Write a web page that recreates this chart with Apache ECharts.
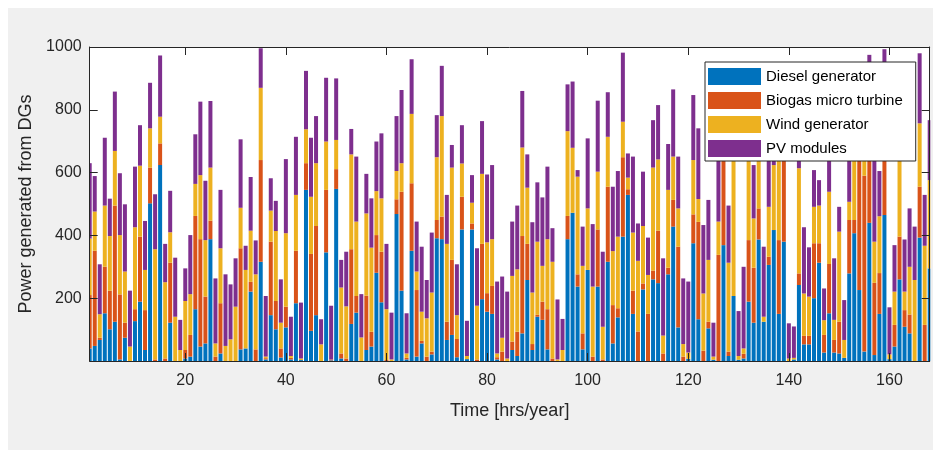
<!DOCTYPE html>
<html><head><meta charset="utf-8">
<script src="https://cdn.jsdelivr.net/npm/echarts@6/dist/echarts.min.js"></script>
<style>html,body{margin:0;padding:0;background:#fff}#c{width:933px;height:450px}</style>
</head><body><div id="c"></div>
<script>
// Hours 1..168 (x categories)
const hours = Array.from({length:168},(_,i)=>i+1);
const xTicks = [20,40,60,80,100,120,140,160];
const yTicks = [0,200,400,600,800,1000];
const seriesNames = ['Diesel generator','Biogas micro turbine','Wind generator','PV modules'];

const diesel = [40,48,67,152,101,125,5,74,0,127,189,35,502,0,624,0,122,0,0,8,14,165,46,56,388,0,24,0,0,0,
37,40,221,0,316,5,146,101,11,107,5,184,3,545,96,146,0,346,2,548,8,0,118,154,0,35,46,281,187,0,
0,468,224,5,351,14,56,0,21,391,388,67,83,12,419,6,419,0,197,157,150,5,0,0,35,16,88,258,35,141,
131,37,0,0,0,388,472,237,37,290,0,237,0,316,56,139,396,529,150,0,228,0,260,248,0,276,428,107,0,7,
375,133,0,104,4,0,369,16,207,4,8,189,122,387,125,306,417,150,380,0,5,242,53,53,200,313,27,152,27,24,
10,279,407,226,30,440,19,150,465,6,46,260,109,88,0,393,0,295];

const biogas = [170,303,7,148,123,370,207,48,0,38,207,127,114,5,69,8,191,0,0,27,69,297,342,149,59,14,160,0,0,0,
322,0,31,37,324,4,234,90,29,66,5,167,0,85,245,284,0,199,3,63,16,8,238,53,0,173,47,120,161,3,
0,47,315,5,215,212,8,14,9,58,72,58,239,58,104,0,19,5,176,59,89,7,30,0,27,77,310,115,19,6,
58,128,8,0,0,74,0,39,51,0,14,182,5,239,122,29,253,18,74,94,19,150,28,167,24,21,85,257,14,0,
92,310,33,21,0,338,350,14,0,0,15,196,175,99,0,26,0,235,300,0,0,37,27,27,175,62,56,157,40,101,
0,170,42,480,560,240,230,130,250,0,69,136,53,60,0,162,115,0];

const wind = [180,125,75,195,174,174,189,163,46,261,226,128,125,351,85,243,97,141,35,156,130,102,204,180,169,42,175,48,69,173,
129,250,163,239,230,5,99,223,82,234,6,178,5,108,182,200,53,154,0,93,210,166,302,237,75,262,268,140,170,162,
5,90,91,14,221,59,93,122,188,200,320,248,294,76,106,10,66,171,223,162,149,12,44,8,209,199,282,179,164,233,
114,223,308,5,35,270,207,311,215,196,223,184,104,159,172,228,113,37,185,225,183,124,328,227,57,248,138,122,40,20,
173,73,182,197,10,106,120,283,500,12,17,300,157,250,16,159,207,280,100,8,5,335,135,125,116,120,47,230,64,287,
57,58,250,80,60,130,131,181,120,15,106,300,59,152,258,202,252,281];

const pv = [240,113,159,216,119,189,197,214,178,193,129,156,145,175,195,122,132,188,96,104,188,158,234,189,212,207,186,228,175,154,
218,77,171,108,126,193,103,96,138,236,125,185,178,186,188,150,80,203,171,196,88,174,81,207,138,126,157,158,207,208,
149,175,233,128,174,159,207,122,191,134,160,156,72,162,122,112,88,183,168,216,236,229,195,213,173,203,180,106,224,189,
218,231,107,191,99,149,211,21,125,223,199,226,239,142,205,209,220,77,242,119,173,119,151,173,246,146,214,165,209,226,
207,225,218,191,108,276,100,182,100,143,260,120,170,150,223,220,40,150,120,112,100,100,211,157,117,81,101,110,196,79,
127,193,100,120,100,165,290,144,158,150,148,120,166,186,170,223,162,191];

const colors = ['#0072BD','#D95319','#EDB120','#7E2F8E'];
const values = [diesel, biogas, wind, pv];
const FONT = '"Liberation Sans", Arial, Helvetica, sans-serif';
const TXT = '#262626';

// Visible axes box (MATLAB xlim [1,168]); bar grid is widened by half a band on each side
const PL = 89.7, PT = 47, PW = 840, PH = 314;
const band = PW / (hours.length - 1);

const chart = echarts.init(document.getElementById('c'), null, {renderer:'canvas'});
const series = values.map((arr,k)=>({
  name: seriesNames[k],
  type: 'bar',
  stack: 'dg',
  xAxisIndex: 0, yAxisIndex: 0,
  barWidth: 4,
  itemStyle: {color: colors[k]},
  emphasis: {disabled: true},
  data: arr
}));

chart.setOption({
  animation: false,
  backgroundColor: '#ffffff',
  graphic: [
    {type:'rect', z:-10, silent:true, shape:{x:8,y:8,width:925,height:442}, style:{fill:'#f0f0f0'}},
    {type:'rect', z:-9, silent:true, shape:{x:PL,y:PT,width:PW,height:PH}, style:{fill:'#ffffff'}},
    {type:'rect', z:5, silent:true, shape:{x:PL-6,y:PT,width:5.5,height:PH}, style:{fill:'#f0f0f0'}},
    {type:'rect', z:5, silent:true, shape:{x:PL+PW+0.6,y:PT,width:6,height:PH}, style:{fill:'#f0f0f0'}}
  ],
  grid: [
    {left: PL - band/2, top: PT, width: PW + band, height: PH, containLabel: false},
    {left: PL, top: PT, width: PW, height: PH, containLabel: false}
  ],
  legend: {
    orient: 'vertical', left: 705, top: 62, z: 20,
    data: seriesNames,
    icon: 'rect', itemWidth: 53, itemHeight: 17, itemGap: 7,
    padding: [6, 13, 4, 3],
    backgroundColor: '#ffffff', borderColor: '#262626', borderWidth: 1,
    textStyle: {fontFamily: FONT, fontSize: 15, color: '#000'},
    selectedMode: false
  },
  xAxis: [{
    type: 'category', gridIndex: 0, data: hours, boundaryGap: true,
    show: false
  },{
    type: 'value', gridIndex: 1, min: 1, max: 168, position: 'bottom', z: 10,
    name: 'Time [hrs/year]', nameLocation: 'middle', nameGap: 41,
    nameTextStyle: {fontFamily: FONT, fontSize: 18, color: TXT},
    axisLine: {show: true, onZero: false, lineStyle: {color: TXT, width: 1}},
    axisTick: {show: true, inside: true, length: 8, customValues: xTicks, lineStyle: {color: TXT}},
    axisLabel: {show: true, customValues: xTicks, margin: 12, fontFamily: FONT, fontSize: 16, color: TXT},
    splitLine: {show: false}
  },{
    type: 'value', gridIndex: 1, min: 1, max: 168, position: 'top', z: 10,
    axisLine: {show: true, onZero: false, lineStyle: {color: TXT, width: 1}},
    axisTick: {show: true, inside: true, length: 8, customValues: xTicks, lineStyle: {color: TXT}},
    axisLabel: {show: false},
    splitLine: {show: false}
  }],
  yAxis: [{
    type: 'value', gridIndex: 0, min: 0, max: 1000, interval: 200, show: false
  },{
    type: 'value', gridIndex: 1, min: 0, max: 1000, interval: 200, position: 'left', z: 10,
    name: 'Power generated from DGs', nameLocation: 'middle', nameGap: 55, nameRotate: 90,
    nameTextStyle: {fontFamily: FONT, fontSize: 18, color: TXT},
    axisLine: {show: true, onZero: false, lineStyle: {color: TXT, width: 1}},
    axisTick: {show: true, inside: true, length: 8, lineStyle: {color: TXT}},
    axisLabel: {margin: 8, fontFamily: FONT, fontSize: 16, color: TXT,
      formatter: v => v === 0 ? '' : String(v)},
    splitLine: {show: false}
  },{
    type: 'value', gridIndex: 1, min: 0, max: 1000, interval: 200, position: 'right', z: 10,
    axisLine: {show: true, onZero: false, lineStyle: {color: TXT, width: 1}},
    axisTick: {show: true, inside: true, length: 8, lineStyle: {color: TXT}},
    axisLabel: {show: false},
    splitLine: {show: false}
  }],
  series: series
});
</script></body></html>
